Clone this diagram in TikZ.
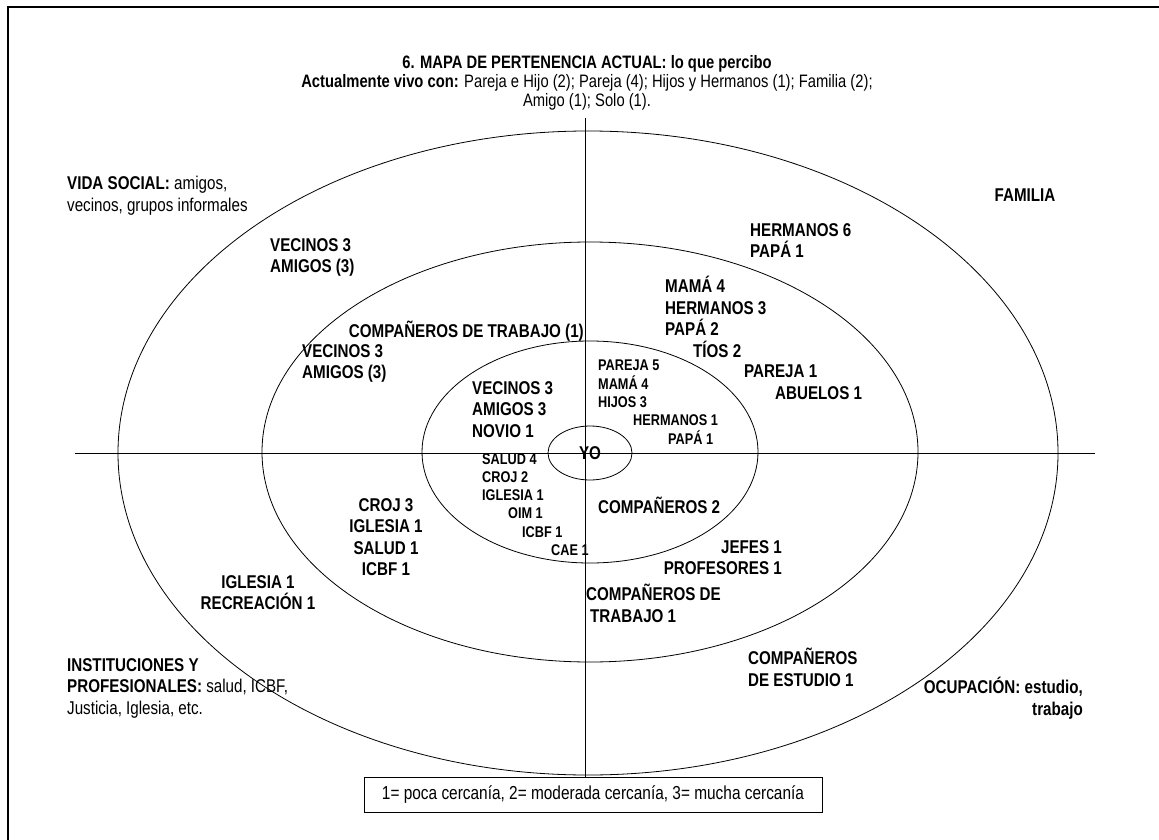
\documentclass[tikz,border=0pt]{standalone}
\usepackage{fontspec}
\setmainfont{Liberation Sans}[FakeStretch=0.82]
\usetikzlibrary{shapes.geometric}

\begin{document}
\begin{tikzpicture}[x=1pt, y=-1pt,
  ring/.style={draw, ellipse, line width=0.8pt, inner sep=0pt},
  tag/.style={font=\bfseries\fontsize{18.5}{21.5}\selectfont, inner sep=0pt, align=left},
  tagsm/.style={font=\bfseries\fontsize{15.5}{18.3}\selectfont, inner sep=0pt, align=left},
  note/.style={font=\fontsize{18.5}{21.5}\selectfont, inner sep=0pt, align=left}]
  \useasboundingbox (0,0) rectangle (1159,840);

  % page frame (only top and left edges show)
  \draw[line width=2.7pt] (8,845) -- (8,7) -- (1165,7);

  % the four rings round YO
  \node[ring, minimum width=940, minimum height=644] (far) at (588,453) {};
  \node[ring, minimum width=656, minimum height=420] (mid) at (590,452) {};
  \node[ring, minimum width=336, minimum height=222] (near) at (590,452) {};
  \node[ring, minimum width=84, minimum height=54, font=\bfseries\fontsize{18.5}{20.5}\selectfont] (yo) at (590,453) {YO};

  % scale of closeness
  \node[draw, fill=white, line width=0.8pt, minimum width=458, minimum height=35,
        font=\fontsize{18.8}{20.5}\selectfont] (legend) at (593,794.5)
    {1= poca cercanía, 2= moderada cercanía, 3= mucha cercanía};

  % axes
  \coordinate (vtop) at (585,118);
  \coordinate (hleft) at (75,453);
  \coordinate (hright) at (1095,453);
  \draw[line width=0.8pt] (hleft) -- (hright);
  \draw[line width=0.8pt] (vtop) -- (vtop |- legend.north);

  % title
  \node[note, anchor=north, align=center, font=\fontsize{18}{19}\selectfont] (title) at (587,55) {
    \textbf{6. MAPA DE PERTENENCIA ACTUAL: lo que percibo}\\
    \textbf{Actualmente vivo con:} Pareja e Hijo (2); Pareja (4); Hijos y Hermanos (1); Familia (2);\\
    Amigo (1); Solo (1).};

  % quadrant names
  \node[note, anchor=north west] (social) at (67,176) {\textbf{VIDA SOCIAL:} amigos,\\vecinos, grupos informales};
  \node[tag] (familia) at (1025,195) {FAMILIA};
  \node[note, anchor=north west] (inst) at (67,658) {\textbf{INSTITUCIONES Y}\\\textbf{PROFESIONALES:} salud, ICBF,\\Justicia, Iglesia, etc.};
  \node[tag, anchor=north east, align=right] (ocup) at (1083,677) {OCUPACIÓN: estudio,\\trabajo};

  % vida social
  \node[tag, anchor=north west] (socfar) at (270,238) {VECINOS 3\\AMIGOS (3)};
  \node[tag, anchor=east] (trabmid) at (584,331) {COMPAÑEROS DE TRABAJO (1)};
  \node[tag, anchor=north west] (socmid) at (302,344) {VECINOS 3\\AMIGOS (3)};
  \node[tag, anchor=north west] (socnear) at (472,381) {VECINOS 3\\AMIGOS 3\\NOVIO 1};

  % familia
  \node[tag, anchor=north west] (famfar) at (750,223) {HERMANOS 6\\PAPÁ 1};
  \node[tag, anchor=north west] (fammid) at (665,276) {MAMÁ 4\\HERMANOS 3\\PAPÁ 2\\\hspace*{28pt}TÍOS 2};
  \node[tag, anchor=north west] (fampar) at (744,365) {PAREJA 1\\\hspace*{31pt}ABUELOS 1};
  \node[tagsm, anchor=north west] (famnear) at (598,360) {PAREJA 5\\MAMÁ 4\\HIJOS 3\\\hspace*{35pt}HERMANOS 1\\\hspace*{70pt}PAPÁ 1};

  % instituciones
  \node[tagsm, anchor=north west] (instnear) at (482,453) {SALUD 4\\CROJ 2\\IGLESIA 1\\\hspace*{26pt}OIM 1\\\hspace*{40pt}ICBF 1\\\hspace*{69pt}CAE 1};
  \node[tag, anchor=north, align=center] (instmid) at (386,498) {CROJ 3\\IGLESIA 1\\SALUD 1\\ICBF 1};
  \node[tag, anchor=north, align=center] (instfar) at (258,575) {IGLESIA 1\\RECREACIÓN 1};

  % ocupacion
  \node[tag, anchor=west] (ocupnear) at (598,505) {COMPAÑEROS 2};
  \node[tag, anchor=north east, align=right] (ocupjefes) at (782,540) {JEFES 1\\PROFESORES 1};
  \node[tag, anchor=north west] (ocuptrab) at (586,584) {COMPAÑEROS DE\\\hspace*{4pt}TRABAJO 1};
  \node[tag, anchor=north west] (ocupfar) at (748,648) {COMPAÑEROS\\DE ESTUDIO 1};
\end{tikzpicture}
\end{document}
